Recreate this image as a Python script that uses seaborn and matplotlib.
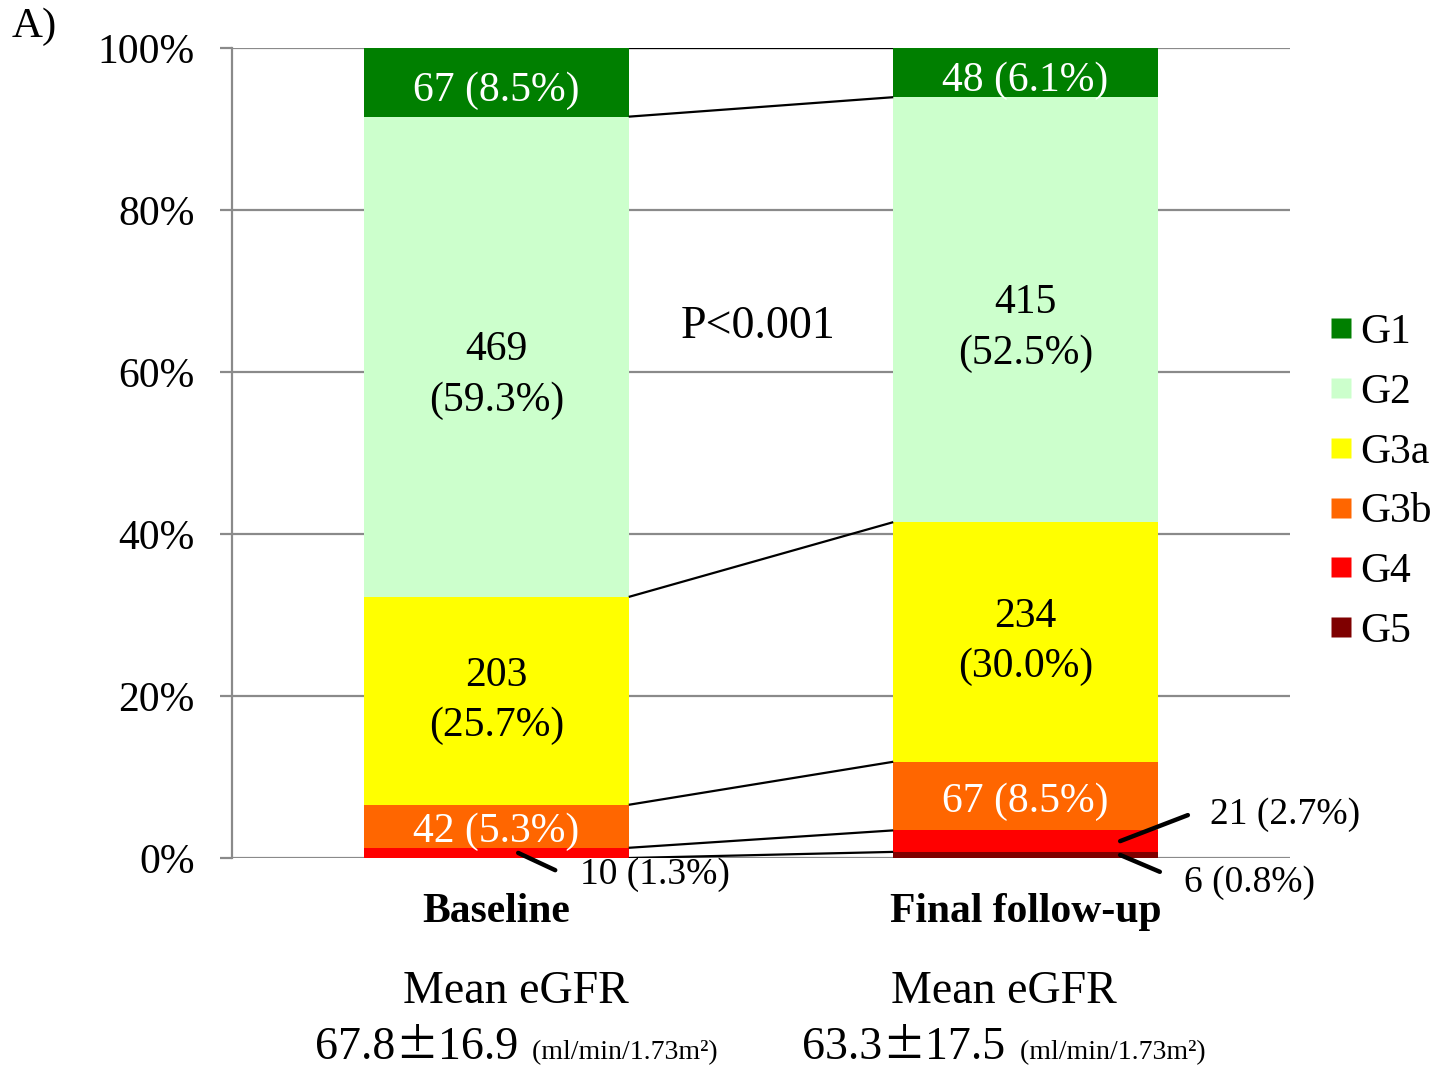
import numpy as np
import pandas as pd
import matplotlib
matplotlib.use("Agg")
import matplotlib.pyplot as plt
import matplotlib.transforms as mtransforms
import seaborn as sns
from matplotlib.lines import Line2D

# ---- data -------------------------------------------------------------
periods = ["Baseline", "Final follow-up"]
stages = ["G1", "G2", "G3a", "G3b", "G4", "G5"]
stage_colors = ["#007F00", "#CCFFCC", "#FFFF00", "#FF6600", "#FF0000", "#7F0000"]
baseline_n = [67, 469, 203, 42, 10, 0]
final_n = [48, 415, 234, 67, 21, 6]
baseline_pct = [8.5, 59.3, 25.7, 5.3, 1.3, 0.0]
final_pct = [6.1, 52.5, 30.0, 8.5, 2.7, 0.8]
ytick_values = [0, 20, 40, 60, 80, 100]
ytick_labels = ["0%", "20%", "40%", "60%", "80%", "100%"]
egfr_mean = ["67.8", "63.3"]
egfr_sd = ["16.9", "17.5"]
egfr_unit = "(ml/min/1.73m\u00b2)"
p_value_text = "P<0.001"
panel_tag = "A)"

# ---- style --------------------------------------------------------------
sns.set_style("white")
SERIF = ["Liberation Serif", "DejaVu Serif"]
PLUSMINUS_FONT = ["Noto Sans CJK JP", "DejaVu Sans"]
plt.rcParams["font.family"] = SERIF
plt.rcParams["text.color"] = "black"
GRID = "#8a8a8a"
FS = 30
FS_SMALL = 27

counts = np.array([baseline_n, final_n], dtype=float)
shares = counts / counts.sum(axis=1, keepdims=True) * 100   # stage share per period
pcts = [baseline_pct, final_pct]

# stacking runs from G5 at the bottom up to G1 at the top
tops = np.cumsum(shares[:, ::-1], axis=1)[:, ::-1]     # top edge of each stage
bottoms = tops - shares

fig = plt.figure(figsize=(14.52, 10.70), dpi=100)
ax = fig.add_axes([0.1598, 0.1981, 0.7286, 0.7570])

# stacked bars: each stage as a bar reaching its cumulative top,
# the highest first so lower stages paint over it
for i, stage in enumerate(stages):
    df = pd.DataFrame({"period": periods, "top": tops[:, i]})
    sns.barplot(data=df, x="period", y="top", color=stage_colors[i],
                saturation=1, width=0.5, errorbar=None, ax=ax,
                linewidth=0, zorder=2)

# connector lines between matching stage boundaries
half = 0.25
for i in range(len(stages)):
    ax.plot([0 + half, 1 - half], [tops[0, i], tops[1, i]],
            color="black", lw=1.6, zorder=3, solid_capstyle="butt")

# labels inside the segments
text_color = {"G1": "white", "G2": "black", "G3a": "black", "G3b": "white"}
label_nudge = {"G1": -1.0, "G2": -2.3, "G3a": 0.0, "G3b": -0.7}
two_line = {"G2", "G3a"}
for p in range(len(periods)):
    for i, stage in enumerate(stages):
        if stage not in text_color:
            continue
        n = int(counts[p, i])
        pct = pcts[p][i]
        sep = "\n" if stage in two_line else " "
        label = f"{n}{sep}({pct:.1f}%)"
        yc = (tops[p, i] + bottoms[p, i]) / 2 + label_nudge[stage]
        ax.text(p, yc, label, ha="center", va="center", fontsize=FS,
                color=text_color[stage], linespacing=1.4, zorder=4)

# small segments labelled outside with leader lines
# (period index, stage index, leader start x, leader end (x, y), text anchor (x, y))
outside = [
    (0, 4, 0.041, (0.111, -1.5), (0.158, -2.1)),
    (1, 4, 1.179, (1.307, 5.3), (1.349, 5.4)),
    (1, 5, 1.179, (1.254, -1.7), (1.300, -3.0)),
]
for p, i, x0, end, txt in outside:
    yc = (tops[p, i] + bottoms[p, i]) / 2
    ax.annotate("", xy=(x0, yc), xytext=end, annotation_clip=False,
                arrowprops=dict(arrowstyle="-", lw=3.2, color="black",
                                shrinkA=0, shrinkB=0), zorder=5)
    label = f"{int(counts[p, i])} ({pcts[p][i]:.1f}%)"
    ax.text(txt[0], txt[1], label, ha="left", va="center", fontsize=FS_SMALL,
            color="black", clip_on=False)

ax.text(0.494, 65.6, p_value_text, ha="center", va="center", fontsize=33)

# axes styling
ax.set_xlim(-0.5, 1.5)
ax.set_ylim(0, 100)
ax.set_yticks(ytick_values)
ax.set_yticklabels(ytick_labels)
ax.set_axisbelow(True)
ax.yaxis.grid(True, color=GRID, lw=1.6, zorder=0)
ax.xaxis.grid(False)
for side in ["top", "right", "bottom"]:
    ax.spines[side].set_visible(False)
ax.spines["left"].set_color(GRID)
ax.spines["left"].set_linewidth(1.6)
ax.tick_params(axis="y", length=9, width=1.6, color=GRID, pad=18,
               labelsize=FS, labelcolor="black", left=True)
ax.tick_params(axis="x", length=0, pad=25, labelsize=30, labelcolor="black")
for lab in ax.get_xticklabels():
    lab.set_fontweight("bold")
ax.set_xlabel("")
ax.set_ylabel("")

# mean eGFR under each bar, laid out as runs of text on one baseline
renderer = fig.canvas.get_renderer()
xt = ax.get_xaxis_transform()


def text_runs(x, y, runs):
    """Place (text, size, family) runs side by side, centred on x."""
    pieces = []
    for s, size, fam in runs:
        t = ax.text(x, y, s, transform=xt, ha="left", va="baseline",
                    fontsize=size, family=fam)
        pieces.append(t)
    widths = [t.get_window_extent(renderer).width / fig.dpi for t in pieces]
    total = sum(widths)
    dx = -total / 2
    for t, w in zip(pieces, widths):
        t.set_transform(xt + mtransforms.ScaledTranslation(dx, 0, fig.dpi_scale_trans))
        dx += w


mean_x = [0.037, 0.959]
for p in range(len(periods)):
    ax.text(mean_x[p], -0.179, "Mean eGFR", transform=xt, ha="center",
            va="baseline", fontsize=33)
    text_runs(mean_x[p], -0.248, [
        (egfr_mean[p], 33, SERIF),
        ("\u00b1", 31, PLUSMINUS_FONT),
        (egfr_sd[p], 33, SERIF),
        ("  " + egfr_unit, 20, SERIF),
    ])

# legend
handles = [Line2D([], [], marker="s", linestyle="none", markersize=15,
                  markerfacecolor=c, markeredgecolor="none") for c in stage_colors]
fig.legend(handles, stages, loc="upper left", bbox_to_anchor=(0.915, 0.707),
           frameon=False, fontsize=FS, handlelength=0.6, handletextpad=0.15,
           labelspacing=0.51, borderpad=0, borderaxespad=0)

fig.text(0.008, 0.975, panel_tag, ha="left", va="center", fontsize=31)

fig.savefig("out.png", dpi=100)
